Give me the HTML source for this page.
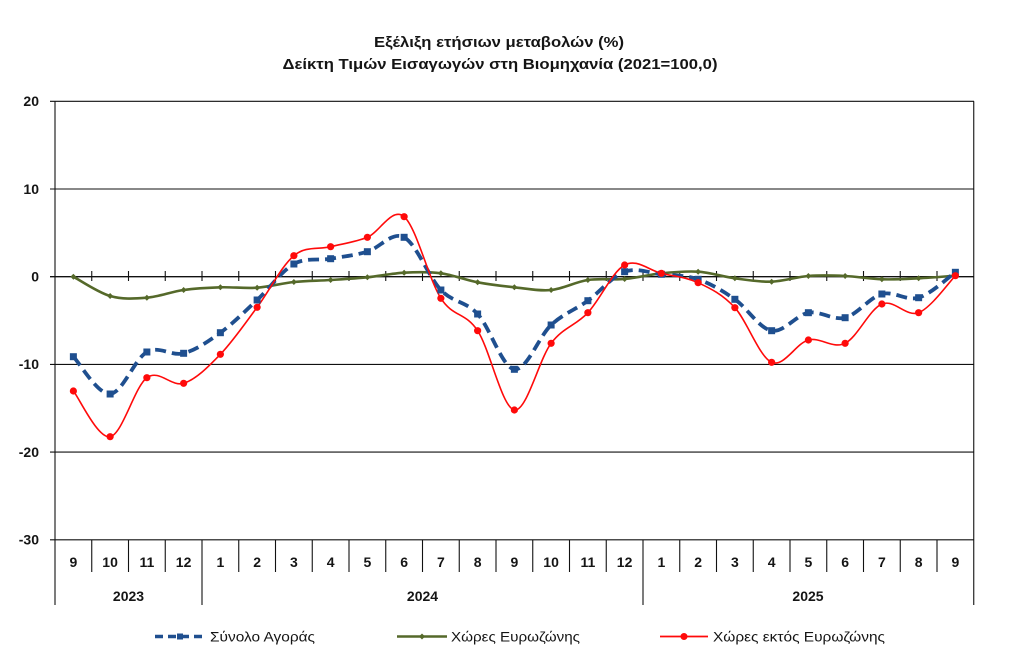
<!DOCTYPE html>
<html><head><meta charset="utf-8"><style>
html,body{margin:0;padding:0;background:#fff;}
svg{display:block;}
text{font-family:"Liberation Sans",Arial,sans-serif;fill:#151515;}
.t{font-weight:bold;font-size:15px;}
.yl{font-weight:bold;font-size:14px;}
.xl{font-weight:bold;font-size:14px;}
.lg{font-size:14px;}
</style></head><body>
<svg id="c" width="1024" height="665" viewBox="0 0 1024 665" xmlns="http://www.w3.org/2000/svg">
<rect width="1024" height="665" fill="#fff"/>
<text class="t" x="499" y="47" text-anchor="middle" textLength="250" lengthAdjust="spacingAndGlyphs">Εξέλιξη ετήσιων μεταβολών (%)</text>
<text class="t" x="500" y="69" text-anchor="middle" textLength="435" lengthAdjust="spacingAndGlyphs">Δείκτη Τιμών Εισαγωγών στη Βιομηχανία (2021=100,0)</text>
<g stroke="#111" stroke-width="1.1" fill="none">
<line x1="50" y1="101.3" x2="974" y2="101.3"/>
<line x1="50" y1="189" x2="974" y2="189"/>
<line x1="50" y1="276.7" x2="974" y2="276.7" stroke-width="1.3"/>
<line x1="50" y1="364.4" x2="974" y2="364.4"/>
<line x1="50" y1="452.1" x2="974" y2="452.1"/>
<line x1="50" y1="539.8" x2="974" y2="539.8"/>
<line x1="55" y1="101.3" x2="55" y2="605"/>
<line x1="973.75" y1="101.3" x2="973.75" y2="605"/>
<g id="ticks"></g>
</g>
<g class="yl" text-anchor="end">
<text x="39" y="106">20</text>
<text x="39" y="194">10</text>
<text x="39" y="281.5">0</text>
<text x="39" y="369">-10</text>
<text x="39" y="457">-20</text>
<text x="39" y="544.5">-30</text>
</g>
<g class="xl" text-anchor="middle">
<text x="73.4" y="567">9</text><text x="110.1" y="567">10</text><text x="146.9" y="567">11</text><text x="183.6" y="567">12</text>
<text x="220.4" y="567">1</text><text x="257.1" y="567">2</text><text x="293.9" y="567">3</text><text x="330.6" y="567">4</text>
<text x="367.4" y="567">5</text><text x="404.1" y="567">6</text><text x="440.9" y="567">7</text><text x="477.6" y="567">8</text>
<text x="514.4" y="567">9</text><text x="551.1" y="567">10</text><text x="587.9" y="567">11</text><text x="624.6" y="567">12</text>
<text x="661.4" y="567">1</text><text x="698.1" y="567">2</text><text x="734.9" y="567">3</text><text x="771.6" y="567">4</text>
<text x="808.4" y="567">5</text><text x="845.1" y="567">6</text><text x="881.9" y="567">7</text><text x="918.6" y="567">8</text>
<text x="955.4" y="567">9</text>
<text x="128.5" y="601">2023</text>
<text x="422.5" y="601">2024</text>
<text x="808" y="601">2025</text>
</g>
<path id="pg" fill="none" stroke="#55692a" stroke-width="2.6" d=""/>
<path id="pb" fill="none" stroke="#1f4f8f" stroke-width="3.8" stroke-dasharray="11,6" d=""/>
<path id="pr" fill="none" stroke="#ff0a0a" stroke-width="1.6" d=""/>
<g id="mk"></g>
<!-- legend -->
<line x1="155" y1="636.5" x2="207" y2="636.5" stroke="#1f4f8f" stroke-width="3.6" stroke-dasharray="8,5"/>
<rect x="177" y="633.5" width="6" height="6" fill="#1f4f8f"/>
<text class="lg" x="210" y="641.5" textLength="105" lengthAdjust="spacingAndGlyphs">Σύνολο Αγοράς</text>
<line x1="397" y1="636.5" x2="447" y2="636.5" stroke="#55692a" stroke-width="2.6"/>
<path d="M422 633.5 L425 636.5 L422 639.5 L419 636.5Z" fill="#55692a"/>
<text class="lg" x="451" y="641.5" textLength="129" lengthAdjust="spacingAndGlyphs">Χώρες Ευρωζώνης</text>
<line x1="660" y1="636.5" x2="708" y2="636.5" stroke="#ff0a0a" stroke-width="1.8"/>
<circle cx="684" cy="636.5" r="3.5" fill="#ff0a0a"/>
<text class="lg" x="713" y="641.5" textLength="172" lengthAdjust="spacingAndGlyphs">Χώρες εκτός Ευρωζώνης</text>
</svg>
<script>
(function(){
var NS="http://www.w3.org/2000/svg";
var xs=[];for(var i=0;i<25;i++)xs.push(55+36.75*(i+0.5));
var B=[356.7,394,352,353.3,332.7,300,264,258.7,251.7,237.3,290,314,369.3,325,300.7,271.7,274.3,279.3,299.3,330.7,312.7,317.7,294,297.7,272.3];
var R=[391,436.7,377.7,383.3,354.3,307.3,255.7,246.7,237.3,216.7,298.3,330.7,410,343.3,312.7,265,273.3,282.7,307.7,362.3,340,343.3,304,312.7,275.7];
var G=[276.7,296,297.7,290,287.3,287.7,282,280,277.3,272.7,273.3,282.3,287.3,290,280,279,273.3,271.7,278.3,281.7,276,276,279.3,278.3,275.7];
function path(ys){
 var n=ys.length,d="M"+xs[0].toFixed(1)+" "+ys[0];
 for(var i=0;i<n-1;i++){
  var p0=i>0?i-1:i,p3=i+2<n?i+2:i+1;
  var c1x=xs[i]+(xs[i+1]-xs[p0])/6,c1y=ys[i]+(ys[i+1]-ys[p0])/6;
  var c2x=xs[i+1]-(xs[p3]-xs[i])/6,c2y=ys[i+1]-(ys[p3]-ys[i])/6;
  d+=" C"+c1x.toFixed(1)+" "+c1y.toFixed(1)+" "+c2x.toFixed(1)+" "+c2y.toFixed(1)+" "+xs[i+1].toFixed(1)+" "+ys[i+1];
 }
 return d;
}
document.getElementById("pg").setAttribute("d",path(G));
document.getElementById("pb").setAttribute("d",path(B));
document.getElementById("pr").setAttribute("d",path(R));
var mk=document.getElementById("mk");
function el(t,a){var e=document.createElementNS(NS,t);for(var k in a)e.setAttribute(k,a[k]);mk.appendChild(e);}
for(var i=0;i<25;i++){
 el("path",{d:"M"+xs[i]+" "+(G[i]-3)+" L"+(xs[i]+3)+" "+G[i]+" L"+xs[i]+" "+(G[i]+3)+" L"+(xs[i]-3)+" "+G[i]+"Z",fill:"#55692a"});
 el("rect",{x:xs[i]-3.5,y:B[i]-3.5,width:7,height:7,fill:"#1f4f8f"});
 el("circle",{cx:xs[i],cy:R[i],r:3.6,fill:"#ff0a0a"});
}
var tk=document.getElementById("ticks");
function ln(x1,y1,x2,y2){var e=document.createElementNS(NS,"line");e.setAttribute("x1",x1);e.setAttribute("y1",y1);e.setAttribute("x2",x2);e.setAttribute("y2",y2);tk.appendChild(e);}
for(var j=1;j<25;j++){
 var x=55+36.75*j;
 ln(x,271,x,281);
 ln(x,539.8,x,(j==4||j==16)?605:572);
}
})();
</script>
</body></html>
